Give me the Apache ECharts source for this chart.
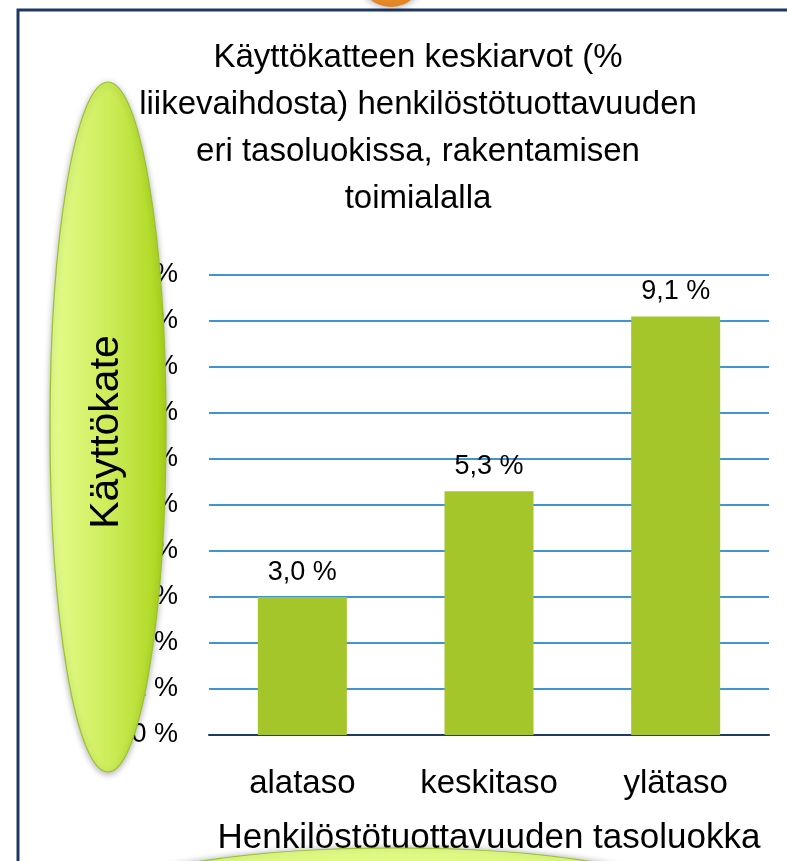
<!DOCTYPE html>
<html>
<head>
<meta charset="utf-8">
<script src="https://cdn.jsdelivr.net/npm/echarts@6/dist/echarts.min.js"></script>
<style>
html,body{margin:0;padding:0;background:#fff;}
#chart{width:787px;height:861px;}
</style>
</head>
<body>
<div id="chart"></div>
<script>
const titleLines = ["Käyttökatteen keskiarvot (%", "liikevaihdosta) henkilöstötuottavuuden", "eri tasoluokissa, rakentamisen", "toimialalla"];
const categories = ["alataso", "keskitaso", "ylätaso"];
const values = [3.0, 5.3, 9.1];
const yTicks = [0, 1, 2, 3, 4, 5, 6, 7, 8, 9, 10];
const xAxisName = "Henkilöstötuottavuuden tasoluokka";
const ovalText = "Käyttökate";

const FONT = "Liberation Sans, sans-serif";
const chart = echarts.init(document.getElementById('chart'));
const fmt = v => v.toFixed(1).replace('.', ',') + ' %';

chart.setOption({
  backgroundColor: '#ffffff',
  animation: false,
  title: {
    text: titleLines.join('\n'),
    left: 413, top: 29, textAlign: 'center',
    textStyle: { fontFamily: FONT, fontSize: 33, fontWeight: 'normal', color: '#000', lineHeight: 47 }
  },
  grid: { left: 209, right: 18, top: 275, bottom: 126 },
  xAxis: {
    type: 'category', data: categories,
    axisLine: { lineStyle: { color: '#1F3864', width: 2 } },
    axisTick: { show: false },
    axisLabel: { fontFamily: FONT, fontSize: 33, color: '#000', margin: 32 },
    name: xAxisName, nameLocation: 'middle', nameGap: 86,
    nameTextStyle: { fontFamily: FONT, fontSize: 35, color: '#000' }
  },
  yAxis: {
    type: 'value', min: yTicks[0], max: yTicks[yTicks.length - 1], interval: yTicks[1] - yTicks[0],
    axisLine: { show: false }, axisTick: { show: false },
    axisLabel: { fontFamily: FONT, fontSize: 27, color: '#000', margin: 31, formatter: v => v + ' %' },
    splitLine: { lineStyle: { color: '#0070C0', width: 1.6 } }
  },
  series: [{
    type: 'bar', data: values, barWidth: 89,
    itemStyle: { color: '#A5C62B' },
    label: { show: true, position: 'top', distance: 11, fontFamily: FONT, fontSize: 27, color: '#000', formatter: p => fmt(p.value) }
  }],
  graphic: [
    { type: 'rect', z: 100, shape: { x: 18, y: 10, width: 800, height: 900 },
      style: { fill: 'none', stroke: '#1F3864', lineWidth: 3 } },
    { type: 'circle', z: 110, shape: { cx: 391, cy: -25, r: 32 },
      style: { fill: new echarts.graphic.RadialGradient(0.5, 0.3, 0.8, [{offset:0, color:'#F6B45A'},{offset:1, color:'#E07B18'}]),
        shadowBlur: 8, shadowColor: 'rgba(0,0,0,0.4)' } },
    { type: 'ellipse', z: 120, shape: { cx: 108, cy: 427, rx: 58, ry: 345 },
      style: { fill: new echarts.graphic.LinearGradient(0, 0, 1, 0, [{offset:0, color:'#E4FC8E'},{offset:0.5, color:'#CDED5A'},{offset:1, color:'#AAD51A'}]),
        stroke: '#99C22C', lineWidth: 1.2, shadowBlur: 6, shadowColor: 'rgba(0,0,0,0.3)', shadowOffsetY: 2 } },
    { type: 'text', z: 121, x: 107, y: 432, rotation: Math.PI / 2,
      style: { text: ovalText, fontFamily: FONT, fontSize: 41, fill: '#000', align: 'center', verticalAlign: 'middle' } },
    { type: 'ellipse', z: 120, shape: { cx: 395, cy: 904, rx: 300, ry: 56 },
      style: { fill: new echarts.graphic.LinearGradient(0, 0, 0, 1, [{offset:0, color:'#E2FB8A'},{offset:1, color:'#B8DF2E'}]),
        stroke: '#99C22C', lineWidth: 1.2, shadowBlur: 6, shadowColor: 'rgba(0,0,0,0.3)' } }
  ]
});
</script>
</body>
</html>
